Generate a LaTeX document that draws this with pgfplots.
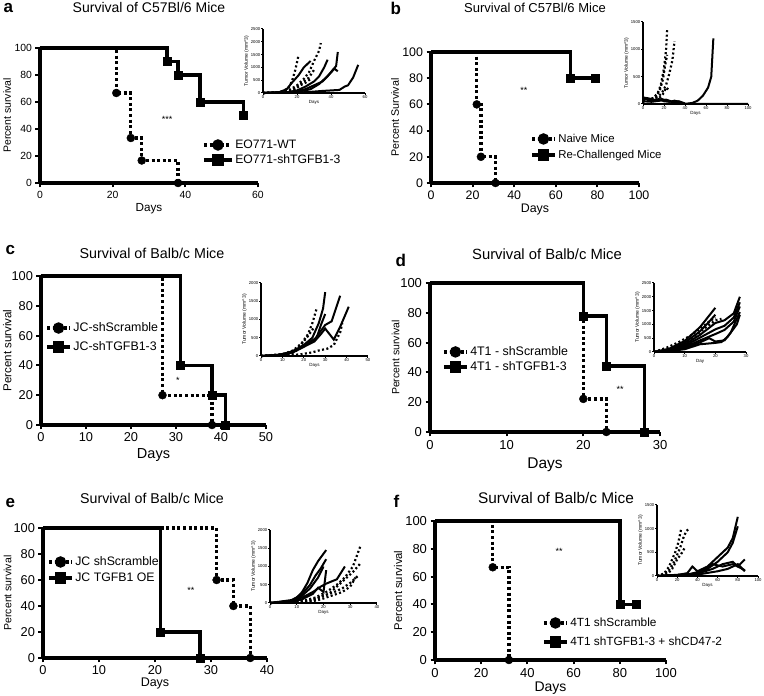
\documentclass[border=0pt]{standalone}
\usepackage{fontspec}
\setmainfont{Liberation Sans}
\usepackage{pgfplots}
\pgfplotsset{compat=1.18}
\pgfplotsset{
  surv/.style={
    scale only axis, axis lines*=left, xmin=0, ymin=0, ymax=100,
    ytick={0,20,40,60,80,100},
    axis line style={line width=3.6pt},
    tick style={line width=2pt, black}, tick align=outside, major tick length=4.5pt,
    clip=false, xlabel={Days}, ylabel={Percent survival},
    /pgf/number format/assume math mode=true,
    legend cell align=left,
    legend style={draw=none, fill=none, inner sep=0pt, anchor=west,
      nodes={inner xsep=1.5pt, inner ysep=0pt, text height=9pt, text depth=2pt}},
    legend image code/.code={\draw[mark repeat=2,mark phase=2,##1] plot coordinates {(0pt,0pt) (11.5pt,0pt) (23pt,0pt)};},
  },
  ylab/.style={ylabel style={at={(axis description cs:-#1,0.5)}, anchor=center}},
  xlab/.style={xlabel style={at={(axis description cs:0.5,-#1)}, anchor=center}},
  dotS/.style={black, line width=3.3pt, dash pattern=on 3pt off 2.6pt, const plot, no marks},
  solS/.style={black, line width=3.6pt, const plot, no marks},
  dotM/.style={black, only marks, mark=*, mark size=4pt},
  solM/.style={black, only marks, mark=square*, mark size=4pt},
  dotL/.style={black, line width=3.3pt, dash pattern=on 3pt off 2.6pt, mark=*, mark size=4pt, mark options={solid}},
  solL/.style={black, line width=3.6pt, mark=square*, mark size=4pt},
  inset/.style={
    scale only axis, axis lines*=left, xmin=0, ymin=0,
    axis line style={line width=2.2pt},
    tick style={line width=1pt, black}, tick align=outside, major tick length=1.8pt,
    ticklabel style={font=\fontsize{4.2}{5}\selectfont, inner sep=0.8pt},
    xlabel style={font=\fontsize{4.5}{5}\selectfont, inner sep=1pt},
    ylabel style={font=\fontsize{5}{6}\selectfont, inner sep=1pt},
    ylabel={Tumor Volume (mm\textasciicircum 3)}, xlabel={Days},
    scaled ticks=false, /pgf/number format/1000 sep={}, /pgf/number format/assume math mode=true,
    clip=false,
  },
  iS/.style={black, line width=2pt, no marks},
  iD/.style={black, line width=2.2pt, dash pattern=on 2pt off 2.4pt, no marks},
}
\begin{document}
\begin{tikzpicture}
\path[use as bounding box] (0pt,0pt) rectangle (764pt,696pt);

% ---------------- panel letters and titles
\node[anchor=base west, font=\fontsize{17}{19}\selectfont\bfseries] at (0pt,683pt) {a};
\node[anchor=base west, font=\fontsize{17}{19}\selectfont\bfseries] at (387pt,681pt) {b};
\node[anchor=base west, font=\fontsize{17}{19}\selectfont\bfseries] at (2pt,441pt) {c};
\node[anchor=base west, font=\fontsize{17}{19}\selectfont\bfseries] at (392pt,429pt) {d};
\node[anchor=base west, font=\fontsize{17}{19}\selectfont\bfseries] at (2pt,188pt) {e};
\node[anchor=base west, font=\fontsize{17}{19}\selectfont\bfseries] at (390pt,188pt) {f};
\node[anchor=base, font=\fontsize{14}{16}\selectfont] at (149pt,683.3pt) {Survival of C57Bl/6 Mice};
\node[anchor=base, font=\fontsize{13}{15}\selectfont] at (535pt,683.3pt) {Survival of C57Bl/6 Mice};
\node[anchor=base, font=\fontsize{14.3}{16}\selectfont] at (152pt,437.7pt) {Survival of Balb/c Mice};
\node[anchor=base, font=\fontsize{14.8}{16}\selectfont] at (547pt,436.7pt) {Survival of Balb/c Mice};
\node[anchor=base, font=\fontsize{14.2}{16}\selectfont] at (152pt,192.7pt) {Survival of Balb/c Mice};
\node[anchor=base, font=\fontsize{15.4}{17}\selectfont] at (556pt,192.7pt) {Survival of Balb/c Mice};

% ================= panel a
\begin{axis}[surv, at={(40pt,513pt)}, anchor=south west, width=218pt, height=135pt,
  xmax=60, xtick={0,20,40,60},
  ticklabel style={font=\fontsize{10.4}{12}\selectfont},
  xlabel style={font=\fontsize{11.7}{13}\selectfont},
  ylabel style={font=\fontsize{10.5}{12}\selectfont},
  ylab=0.151, xlab=0.193,
  legend image code/.code={\draw[mark repeat=2,mark phase=2,#1] plot coordinates {(0pt,0pt) (14pt,0pt) (28pt,0pt)};},
  legend style={at={(0.743,0.226)}, font=\fontsize{12.2}{14}\selectfont, row sep=4pt}]
\addplot[dotS, forget plot] coordinates {(0,100)(21,66.67)(25,33.33)(28,16.67)(38,0)};
\addplot[solS, forget plot] coordinates {(0,100)(35,90)(38,80)(44,60)(56,50)};
\addplot[dotM, forget plot] coordinates {(21,66.67)(25,33.33)(28,16.67)(38,0)};
\addplot[solM, forget plot] coordinates {(35,90)(38,80)(44,60)(56,50)};
\addlegendimage{dotL}\addlegendentry{EO771-WT}
\addlegendimage{solL}\addlegendentry{EO771-shTGFB1-3}
\node[font=\fontsize{9}{10}\selectfont] at (axis cs:35,47) {***};
\end{axis}
\begin{axis}[inset, at={(263pt,603pt)}, anchor=south west, width=102pt, height=64pt,
  xmax=60, ymax=2500, xtick={0,20,40,60}, ytick={0,500,...,2500}]
\addplot[iD] coordinates {(0,0)(8,20)(12,80)(15,200)(17,450)(19,900)(21,1500)};
\addplot[iD] coordinates {(0,0)(10,30)(15,100)(20,300)(24,550)(27,800)(30,1250)(33,1650)(34,1950)};
\addplot[iD] coordinates {(0,0)(12,30)(17,120)(21,300)(24,450)(27,600)(30,900)};
\addplot[iD] coordinates {(0,0)(14,40)(19,150)(22,300)(25,400)(28,550)};
\addplot[iS] coordinates {(0,0)(10,40)(14,150)(17,400)(21,700)(24,1000)(28,1250)};
\addplot[iS] coordinates {(0,0)(14,30)(20,100)(25,250)(30,450)(33,650)(36,1000)(38,1300)};
\addplot[iS] coordinates {(0,0)(18,40)(25,150)(30,300)(35,450)(38,650)(41,900)(43,1050)(44,1600)};
\addplot[iS] coordinates {(0,0)(20,30)(28,150)(33,350)(37,600)(40,800)(42,950)(44,850)};
\addplot[iS] coordinates {(0,0)(25,30)(35,80)(45,120)(48,250)(50,300)(53,600)(56,1100)};
\end{axis}

% ================= panel b
\begin{axis}[surv, at={(431pt,513pt)}, anchor=south west, width=208pt, height=131pt,
  xmax=100, xtick={0,20,40,60,80,100}, ylabel={Percent Survival},
  ticklabel style={font=\fontsize{12.4}{14}\selectfont},
  xlabel style={font=\fontsize{12.4}{14}\selectfont},
  ylabel style={font=\fontsize{10.7}{12}\selectfont},
  ylab=0.173, xlab=0.206,
  legend style={at={(0.476,0.275)}, font=\fontsize{11.4}{13}\selectfont, row sep=5pt}]
\addplot[dotS, forget plot] coordinates {(0,100)(22,60)(24,20)(31,0)};
\addplot[solS, forget plot] coordinates {(0,100)(67,80)(79,80)};
\addplot[dotM, forget plot] coordinates {(22,60)(24,20)(31,0)};
\addplot[solM, forget plot] coordinates {(67,80)(79,80)};
\addlegendimage{dotL}\addlegendentry{Naive Mice}
\addlegendimage{solL}\addlegendentry{Re-Challenged Mice}
\node[font=\fontsize{9}{10}\selectfont] at (axis cs:44.7,71) {**};
\end{axis}
\begin{axis}[inset, at={(643pt,592pt)}, anchor=south west, width=105pt, height=82pt,
  xmax=100, ymax=1500, xtick={0,20,40,60,80,100}, ytick={0,500,1000,1500}]
\addplot[iD] coordinates {(0,60)(5,90)(10,110)(14,200)(17,350)(20,650)(22,1000)(23,1350)};
\addplot[iD] coordinates {(0,80)(6,60)(12,120)(16,250)(19,450)(21,700)(23,900)};
\addplot[iD] coordinates {(0,40)(8,90)(14,130)(18,200)(22,350)(25,550)(28,800)(30,1150)};
\addplot[iD] coordinates {(0,100)(8,50)(15,100)(19,180)(22,300)(25,250)};
\addplot[iS] coordinates {(0,100)(5,80)(10,60)(15,90)(20,50)(25,40)(30,60)(35,40)(40,0)(47,20)(52,60)(57,150)(62,300)(65,500)(67,1200)};
\addplot[iS] coordinates {(0,120)(6,100)(12,70)(18,90)(24,50)(30,30)(36,20)(40,0)(100,0)};
\addplot[iS] coordinates {(0,50)(8,40)(16,60)(22,80)(28,40)(34,50)(40,10)};
\end{axis}

% ================= panel c
\begin{axis}[surv, at={(41pt,271pt)}, anchor=south west, width=225pt, height=149pt,
  xmax=50, xtick={0,10,20,30,40,50},
  ticklabel style={font=\fontsize{12.8}{14}\selectfont},
  xlabel style={font=\fontsize{14.5}{16}\selectfont},
  ylabel style={font=\fontsize{11.5}{13}\selectfont},
  ylab=0.150, xlab=0.201,
  legend style={at={(0.018,0.587)}, font=\fontsize{12.4}{14}\selectfont, row sep=8pt}]
\addplot[dotS, forget plot] coordinates {(0,100)(27,20)(38,0)};
\addplot[solS, forget plot] coordinates {(0,100)(31,40)(38,20)(41,0)};
\addplot[dotM, forget plot] coordinates {(27,20)(38,0)};
\addplot[solM, forget plot] coordinates {(31,40)(38,20)(41,0)};
\addlegendimage{dotL}\addlegendentry{JC-shScramble}
\addlegendimage{solL}\addlegendentry{JC-shTGFB1-3}
\node[font=\fontsize{9}{10}\selectfont] at (axis cs:30.4,30) {*};
\end{axis}
\begin{axis}[inset, at={(261pt,340pt)}, anchor=south west, width=107pt, height=73pt,
  xmax=50, ymax=2000, xtick={0,10,20,30,40,50}, ytick={0,500,...,2000}]
\addplot[iS] coordinates {(0,0)(8,30)(12,80)(16,150)(20,300)(24,500)(27,900)(29,1300)(30,1750)};
\addplot[iS] coordinates {(0,0)(8,25)(13,90)(18,220)(22,350)(26,500)(28,850)(30,1150)};
\addplot[iS] coordinates {(0,0)(10,40)(15,130)(20,300)(25,450)(30,850)(33,950)(37,1650)};
\addplot[iS] coordinates {(0,0)(10,30)(15,100)(20,250)(25,400)(28,600)(30,750)(32,600)(34,450)(37,800)(41,1350)};
\addplot[iD] coordinates {(0,0)(10,50)(15,150)(19,350)(22,600)(24,900)(26,1300)};
\addplot[iD] coordinates {(0,0)(12,40)(17,200)(20,400)(22,550)(25,800)};
\addplot[iD] coordinates {(0,0)(14,20)(19,50)(24,100)(27,150)(31,200)(34,300)(37,650)(38,900)};
\addplot[iD] coordinates {(0,0)(14,60)(18,200)(21,350)};
\end{axis}

% ================= panel d
\begin{axis}[surv, at={(430pt,264pt)}, anchor=south west, width=230pt, height=149pt,
  xmax=30, xtick={0,10,20,30},
  ticklabel style={font=\fontsize{13}{15}\selectfont},
  xlabel style={font=\fontsize{15.5}{17}\selectfont},
  ylabel style={font=\fontsize{10.5}{12}\selectfont},
  ylab=0.15, xlab=0.221,
  legend style={at={(0.052,0.487)}, font=\fontsize{12.4}{14}\selectfont, row sep=4pt}]
\addplot[dotS, forget plot] coordinates {(0,100)(20,22.2)(23,0)};
\addplot[solS, forget plot] coordinates {(0,100)(20,77.8)(23,44.4)(28,0)};
\addplot[dotM, forget plot] coordinates {(20,22.2)(23,0)};
\addplot[solM, forget plot] coordinates {(20,77.8)(23,44.4)(28,0)};
\addlegendimage{dotL}\addlegendentry{4T1 - shScramble}
\addlegendimage{solL}\addlegendentry{4T1 - shTGFB1-3}
\node[font=\fontsize{9}{10}\selectfont] at (axis cs:24.8,28.5) {**};
\end{axis}
\begin{axis}[inset, at={(654pt,344pt)}, anchor=south west, width=92pt, height=69pt,
  xmax=30, ymax=2500, xtick={0,10,20,30}, ytick={0,500,...,2500}, xlabel={Day}]
\addplot[iS] coordinates {(0,0)(5,120)(10,400)(15,900)(20,1600)};
\addplot[iS] coordinates {(0,0)(5,90)(10,330)(15,750)(18,1100)(20,1350)};
\addplot[iS] coordinates {(0,0)(5,70)(10,270)(15,620)(20,1050)(23,1150)(26,1400)(28,2000)};
\addplot[iS] coordinates {(0,0)(5,60)(10,220)(15,520)(20,820)(23,950)(26,1250)(28,1800)};
\addplot[iS] coordinates {(0,0)(5,50)(10,170)(15,420)(20,650)(23,800)(26,1100)(28,1650)};
\addplot[iS] coordinates {(0,0)(5,40)(10,130)(15,350)(18,500)(20,380)(23,420)(25,700)(28,1450)};
\addplot[iS] coordinates {(0,0)(5,30)(10,100)(15,280)(20,330)(22,360)(24,550)(27,1000)(28,1350)};
\addplot[iD] coordinates {(0,0)(4,150)(8,350)(12,600)(15,850)(18,1100)(20,1250)};
\addplot[iD] coordinates {(0,0)(5,100)(9,300)(13,550)(17,900)(20,1150)(22,1200)};
\end{axis}

% ================= panel e
\begin{axis}[surv, at={(43pt,38pt)}, anchor=south west, width=224pt, height=130pt,
  xmax=40, xtick={0,10,20,30,40},
  ticklabel style={font=\fontsize{12.8}{14}\selectfont},
  xlabel style={font=\fontsize{12.5}{14}\selectfont},
  ylabel style={font=\fontsize{10.5}{12}\selectfont},
  ylab=0.158, xlab=0.2,
  legend style={at={(0.018,0.677)}, font=\fontsize{12.3}{14}\selectfont, row sep=5pt}]
\addplot[dotS, forget plot] coordinates {(0,100)(31,60)(34,40)(37,0)};
\addplot[solS, forget plot] coordinates {(0,100)(21,20)(28,0)};
\addplot[dotM, forget plot] coordinates {(31,60)(34,40)(37,0)};
\addplot[solM, forget plot] coordinates {(21,20)(28,0)};
\addlegendimage{dotL}\addlegendentry{JC shScramble}
\addlegendimage{solL}\addlegendentry{JC TGFB1 OE}
\node[font=\fontsize{9}{10}\selectfont] at (axis cs:26.4,52) {**};
\end{axis}
\begin{axis}[inset, at={(270pt,93pt)}, anchor=south west, width=107pt, height=73pt,
  xmax=40, ymax=2000, xtick={0,10,20,30,40}, ytick={0,500,...,2000}]
\addplot[iS] coordinates {(0,0)(8,80)(10,150)(12,300)(14,550)(16,900)(18,1150)(21,1450)};
\addplot[iS] coordinates {(0,0)(8,60)(12,250)(15,500)(17,750)(19,950)(21,1200)};
\addplot[iS] coordinates {(0,0)(8,50)(12,200)(15,400)(18,700)(20,1000)};
\addplot[iS] coordinates {(0,0)(8,40)(12,150)(16,300)(19,450)(21,530)(25,650)(28,1000)};
\addplot[iS] coordinates {(0,0)(8,30)(12,100)(16,250)(18,420)(20,300)(21,900)};
\addplot[iD] coordinates {(0,0)(12,50)(17,150)(21,300)(25,500)(28,700)(31,1000)(33,1400)(34,1600)};
\addplot[iD] coordinates {(0,0)(13,30)(18,150)(22,250)(25,450)(28,650)(31,850)(34,1100)};
\addplot[iD] coordinates {(0,0)(15,30)(19,100)(23,200)(27,300)(30,450)(32,700)};
\addplot[iD] coordinates {(0,0)(16,60)(20,200)(24,300)(27,400)(30,550)(33,750)};
\end{axis}

% ================= panel f
\begin{axis}[surv, at={(435pt,36pt)}, anchor=south west, width=231pt, height=139pt,
  xmax=100, xtick={0,20,40,60,80,100},
  ticklabel style={font=\fontsize{13}{15}\selectfont},
  xlabel style={font=\fontsize{14}{16}\selectfont},
  ylabel style={font=\fontsize{11.2}{13}\selectfont},
  ylab=0.16, xlab=0.201,
  legend style={at={(0.463,0.198)}, font=\fontsize{11.85}{14}\selectfont, row sep=8pt}]
\addplot[dotS, forget plot] coordinates {(0,100)(25,66.7)(32,0)};
\addplot[solS, forget plot] coordinates {(0,100)(80,40)(87,40)};
\addplot[dotM, forget plot] coordinates {(25,66.7)(32,0)};
\addplot[solM, forget plot] coordinates {(80,40)(87,40)};
\addlegendimage{dotL}\addlegendentry{4T1 shScramble}
\addlegendimage{solL}\addlegendentry{4T1 shTGFB1-3 + shCD47-2}
\node[font=\fontsize{9}{10}\selectfont] at (axis cs:53.7,78) {**};
\end{axis}
\begin{axis}[inset, at={(657pt,120pt)}, anchor=south west, width=101pt, height=71pt,
  xmax=100, ymax=1500, xtick={0,20,40,60,80,100}, ytick={0,500,1000,1500}]
\addplot[iD] coordinates {(0,0)(7,50)(12,200)(15,350)(18,500)(21,700)(24,1000)};
\addplot[iD] coordinates {(0,0)(8,40)(13,150)(17,300)(20,450)(23,600)(26,800)(29,950)(32,1000)};
\addplot[iD] coordinates {(0,0)(10,30)(15,150)(20,350)(25,500)(28,620)};
\addplot[iS] coordinates {(0,0)(20,20)(30,60)(35,200)(40,100)(50,200)(60,400)(70,600)(75,800)(80,1250)};
\addplot[iS] coordinates {(0,0)(30,30)(40,80)(50,150)(60,300)(70,500)(75,700)(80,1050)};
\addplot[iS] coordinates {(0,0)(30,20)(45,100)(55,250)(65,200)(75,250)(80,200)(87,350)};
\addplot[iS] coordinates {(0,0)(40,50)(55,150)(65,250)(75,300)(80,200)(87,120)};
\addplot[iS] coordinates {(0,0)(40,30)(60,100)(70,150)(80,250)(87,100)};
\end{axis}
\end{tikzpicture}
\end{document}
